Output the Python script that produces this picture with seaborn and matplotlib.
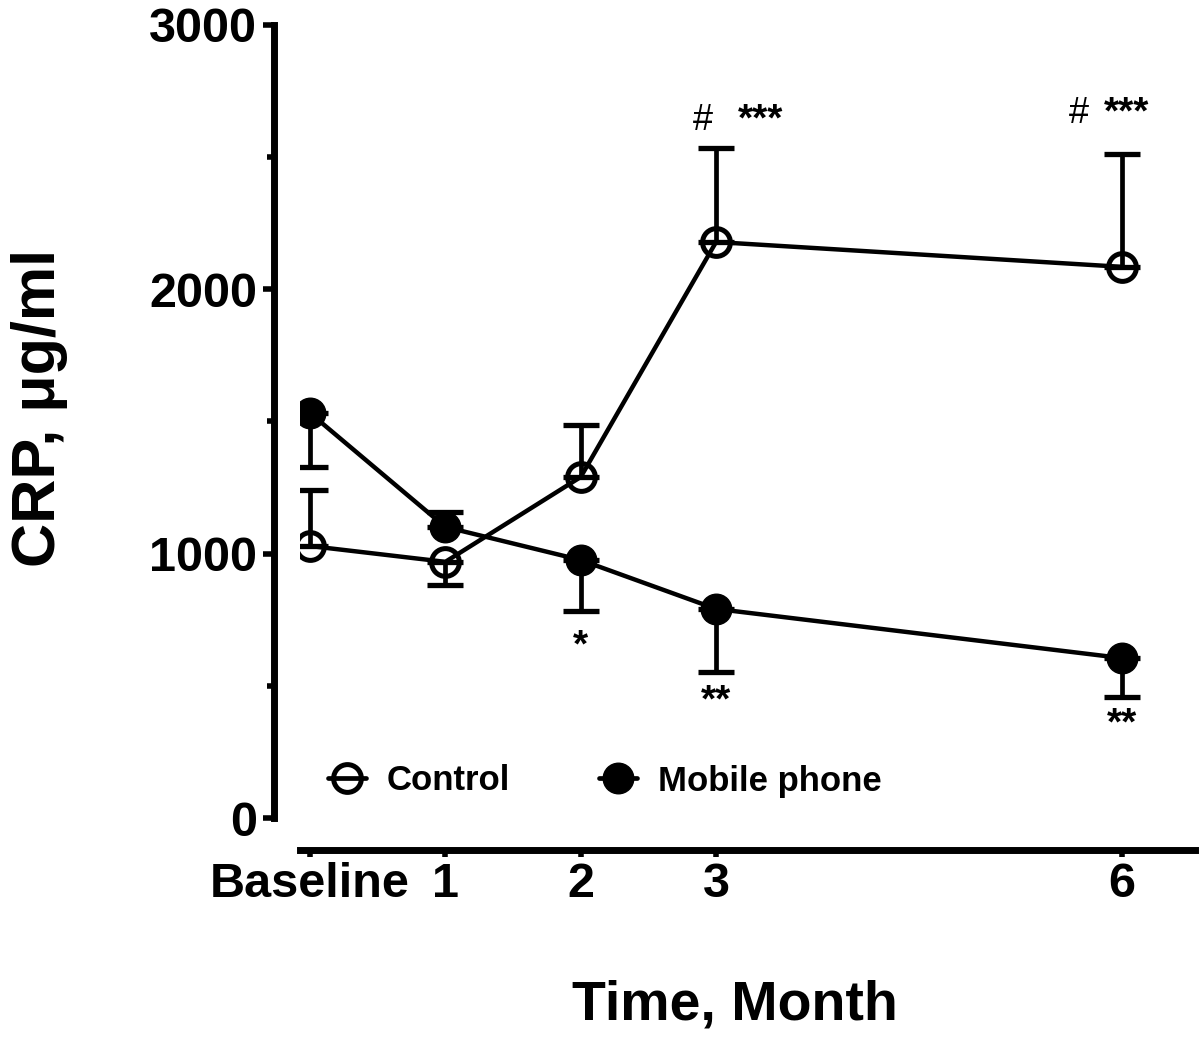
import matplotlib
matplotlib.use("Agg")
import matplotlib.pyplot as plt
import seaborn as sns
import pandas as pd
from matplotlib.lines import Line2D

months = [0, 1, 2, 3, 6]
tick_labels = ["Baseline", "1", "2", "3", "6"]
control_mean = [1029, 969, 1290, 2179, 2085]
control_err_up = [212, 0, 197, 356, 427]
control_err_down = [0, 87, 0, 0, 0]
mobile_mean = [1532, 1101, 976, 791, 605]
mobile_err_up = [0, 57, 0, 0, 0]
mobile_err_down = [204, 0, 193, 239, 147]

# significance annotations: hash part and star part
hash_x = [2.90, 5.68]
hash_y = [2640, 2665]
star_x = [3.33, 6.03]
star_y = [2640, 2665]
star_text = ["***", "***"]
low_x = [2, 3, 6]
low_y = [650, 440, 355]
low_text = ["*", "**", "**"]

sns.set_theme(style="ticks")
plt.rcParams["font.family"] = ["Liberation Sans", "DejaVu Sans"]
for k in ["text.color", "axes.edgecolor", "axes.labelcolor", "xtick.color", "ytick.color"]:
    plt.rcParams[k] = "black"

df = pd.DataFrame({
    "month": months * 2,
    "crp": control_mean + mobile_mean,
    "group": ["Control"] * 5 + ["Mobile phone"] * 5,
})

fig = plt.figure(figsize=(12, 10.43), dpi=100)
ax = fig.add_axes([0.25, 1 - 818 / 1043, 0.996 - 0.25, (818 - 25) / 1043])

lw = 3.2
ax.errorbar(months, control_mean, yerr=[control_err_down, control_err_up], fmt="none",
            ecolor="black", elinewidth=3.4, capsize=13, capthick=3.8, zorder=2)
ax.errorbar(months, mobile_mean, yerr=[mobile_err_down, mobile_err_up], fmt="none",
            ecolor="black", elinewidth=3.4, capsize=13, capthick=3.8, zorder=2)

sns.lineplot(data=df[df.group == "Control"], x="month", y="crp", ax=ax, color="black",
             linewidth=lw, marker="o", markersize=20, markerfacecolor="none",
             markeredgecolor="black", markeredgewidth=3.6, legend=False, zorder=3)
sns.lineplot(data=df[df.group == "Mobile phone"], x="month", y="crp", ax=ax, color="black",
             linewidth=lw, marker="o", markersize=22, markerfacecolor="black",
             markeredgecolor="black", markeredgewidth=1, legend=False, zorder=3)

for x, y in zip(hash_x, hash_y):
    ax.text(x, y, "#", ha="center", va="center", fontsize=26, color="black")
for x, y, t in zip(star_x, star_y, star_text):
    ax.text(x, y, t, ha="center", va="center", fontsize=28, fontweight="bold", color="black")
for x, y, t in zip(low_x, low_y, low_text):
    ax.text(x, y, t, ha="center", va="center", fontsize=28, fontweight="bold", color="black")

ax.set_xlim(-0.074, 6.54)
ax.set_ylim(0, 3000)
ax.set_xticks(months)
ax.set_xticklabels(tick_labels)
ax.set_yticks([0, 1000, 2000, 3000])
ax.set_yticks([500, 1500, 2500], minor=True)

sns.despine(ax=ax)
ax.spines["left"].set_position(("outward", 19))
ax.spines["bottom"].set_position(("outward", 23))
ax.spines["left"].set_linewidth(5)
ax.spines["bottom"].set_linewidth(5)
ax.spines["left"].set_bounds(0, 3000)

ax.tick_params(axis="y", which="major", length=8, width=4, labelsize=35, pad=4)
ax.tick_params(axis="y", which="minor", length=5, width=4)
ax.tick_params(axis="x", which="major", length=5, width=4, labelsize=35, pad=4)
for lab in ax.get_xticklabels() + ax.get_yticklabels():
    lab.set_fontweight("bold")

ax.set_xlabel("Time, Month", fontsize=40, fontweight="bold")
ax.set_ylabel("CRP, \u03bcg/ml", fontsize=44, fontweight="bold")
ax.xaxis.label.set_verticalalignment("center")
ax.yaxis.label.set_verticalalignment("center")
ax.xaxis.set_label_coords((735 - 300) / 895, (818 - 1006) / 793)
ax.yaxis.set_label_coords((40 - 300) / 895, (818 - 408) / 793)

handles = [
    Line2D([0], [0], color="black", lw=3.4, marker="o", markersize=20,
           markerfacecolor="none", markeredgewidth=3.6),
    Line2D([0], [0], color="black", lw=3.4, marker="o", markersize=22,
           markerfacecolor="black"),
]
ax.legend(handles, ["Control", "Mobile phone"], loc="center left",
          bbox_to_anchor=((328 - 300) / 895, (818 - 781) / 793),
          ncol=2, frameon=False, handlelength=1.1, columnspacing=2.55, handletextpad=0.6,
          borderaxespad=0, borderpad=0,
          prop={"family": "Liberation Sans", "weight": "bold", "size": 25})

fig.savefig("out.png", dpi=100)
